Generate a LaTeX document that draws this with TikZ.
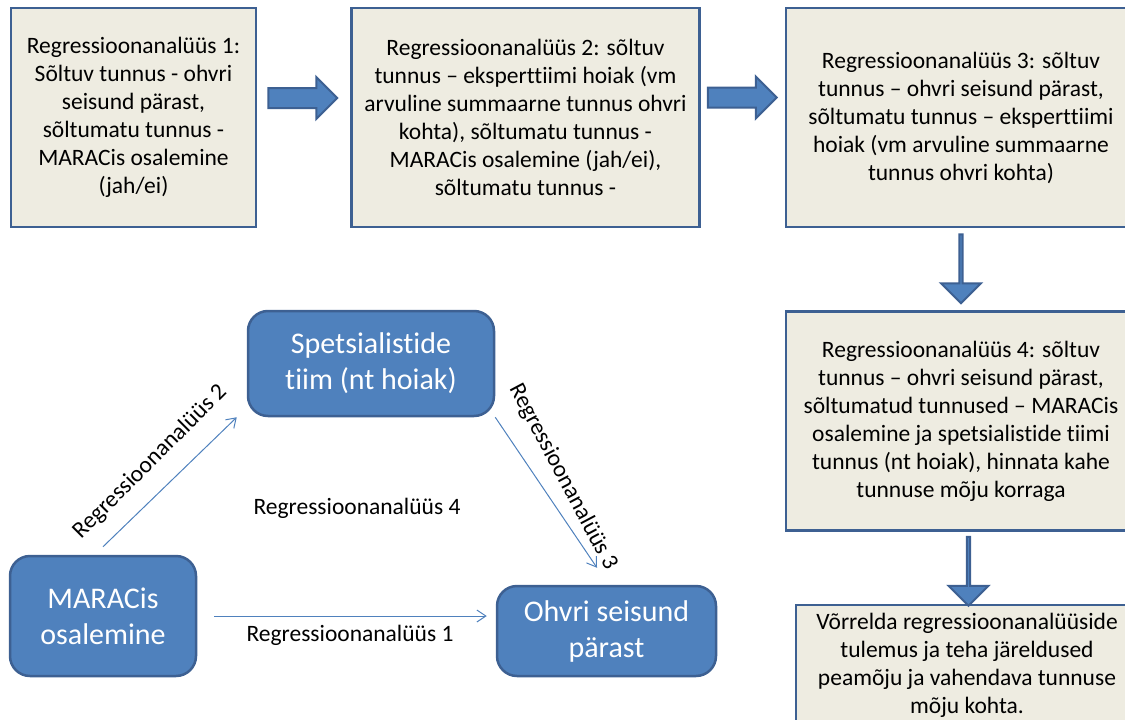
\documentclass[tikz,border=0pt]{standalone}
\usepackage{fontspec}
\setmainfont{Carlito}[Ligatures={NoCommon}]
\usetikzlibrary{positioning, calc, shapes.arrows, arrows.meta}

\definecolor{paper}{HTML}{EEECE1}
\definecolor{accent}{HTML}{4F81BD}
\definecolor{accentdark}{HTML}{3D6092}

\begin{document}
\begin{tikzpicture}[x=1pt, y=-1pt,
    stepbox/.style={rectangle, draw=accentdark, fill=paper, line width=2.5pt,
      align=center, inner sep=4pt, minimum height=219pt,
      font=\fontsize{23.5}{28}\selectfont},
    factor/.style={rectangle, rounded corners=20pt, draw=accentdark, fill=accent,
      line width=2.5pt, align=center, text=white,
      font=\fontsize{30}{36}\selectfont},
    bigarrow/.style={single arrow, draw=accentdark, fill=accent, line width=2pt,
      minimum height=69pt, minimum width=40pt, single arrow head extend=11pt,
      single arrow tip angle=90, inner xsep=0pt, inner ysep=9pt},
    flow/.style={-{Straight Barb[length=9pt,width=12pt]}, draw=accent, line width=1pt},
    lbl/.style={font=\fontsize{23.5}{28}\selectfont, inner sep=0pt}]
   \useasboundingbox (0,0) rectangle (1125,720);
   \clip (0,0) rectangle (1125,720);

   % steps of the analysis
   \node[stepbox, minimum width=245pt] (box_1) at (133.5,117.5)
     {Regressioonanalüüs 1:\\ Sõltuv tunnus - ohvri\\ seisund pärast,\\
      sõltumatu tunnus -\\ MARACis osalemine\\ (jah/ei)};
   \node[stepbox, minimum width=348pt] (box_2) [right=93pt of box_1]
     {Regressioonanalüüs 2: sõltuv\\ tunnus – eksperttiimi hoiak (vm\\
      arvuline summaarne tunnus ohvri\\ kohta), sõltumatu tunnus -\\
      MARACis osalemine (jah/ei),\\ sõltumatu tunnus -};
   \node[stepbox, minimum width=350pt] (box_3) [right=84pt of box_2]
     {Regressioonanalüüs 3: sõltuv\\ tunnus – ohvri seisund pärast,\\
      sõltumatu tunnus – eksperttiimi\\ hoiak (vm arvuline summaarne\\
      tunnus ohvri kohta)};
   \node[stepbox, minimum width=350pt] (box_4) [below=82pt of box_3]
     {Regressioonanalüüs 4: sõltuv\\ tunnus – ohvri seisund pärast,\\
      sõltumatud tunnused – MARACis\\ osalemine ja spetsialistide tiimi\\
      tunnus (nt hoiak), hinnata kahe\\ tunnuse mõju korraga};
   \node[stepbox, minimum width=342pt, minimum height=121pt] (box_5)
     [below=72pt of box_4, xshift=6pt]
     {Võrrelda regressioonanalüüside\\ tulemus ja teha järeldused\\
      peamõju ja vahendava tunnuse\\ mõju kohta.};

   \node[bigarrow] (arr_12) [right=10pt of box_1, yshift=19.5pt] {};
   \node[bigarrow] (arr_23) [right=6pt of box_2, yshift=20pt] {};
   \node[bigarrow, shape border rotate=270] (arr_34) [below=5pt of box_3] {};
   \node[bigarrow, shape border rotate=270] (arr_45) [below=4pt of box_4, xshift=7.5pt] {};

   % mediation model
   \node[factor, minimum width=246pt, minimum height=105pt] (spets) at (371,363.5)
     {Spetsialistide\\ tiim (nt hoiak)};
   \node[factor, minimum width=186pt, minimum height=120pt] (maracis) at (103,616)
     {MARACis\\ osalemine};
   \node[factor, minimum width=219pt, minimum height=90pt] (ohvri) at (606.5,631)
     {Ohvri seisund\\ pärast};

   \draw[flow] ([xshift=17pt]maracis.east) -- ([xshift=-9pt]maracis.east -| ohvri.west);
   \draw[flow] ([yshift=8pt]maracis.north) -- ([xshift=-10pt]spets.south west);
   \draw[flow] (spets.south east) -- ([xshift=-9.5pt,yshift=17pt]ohvri.north);

   \node[lbl] (lab_1) at (350,635) {Regressioonanalüüs 1};
   \node[lbl, rotate=45] (lab_2) at (150,462) {Regressioonanalüüs 2};
   \node[lbl, rotate=-62] (lab_3) at (563,477) {Regressioonanalüüs 3};
   \node[lbl] (lab_4) at (357,508) {Regressioonanalüüs 4};
\end{tikzpicture}
\end{document}
